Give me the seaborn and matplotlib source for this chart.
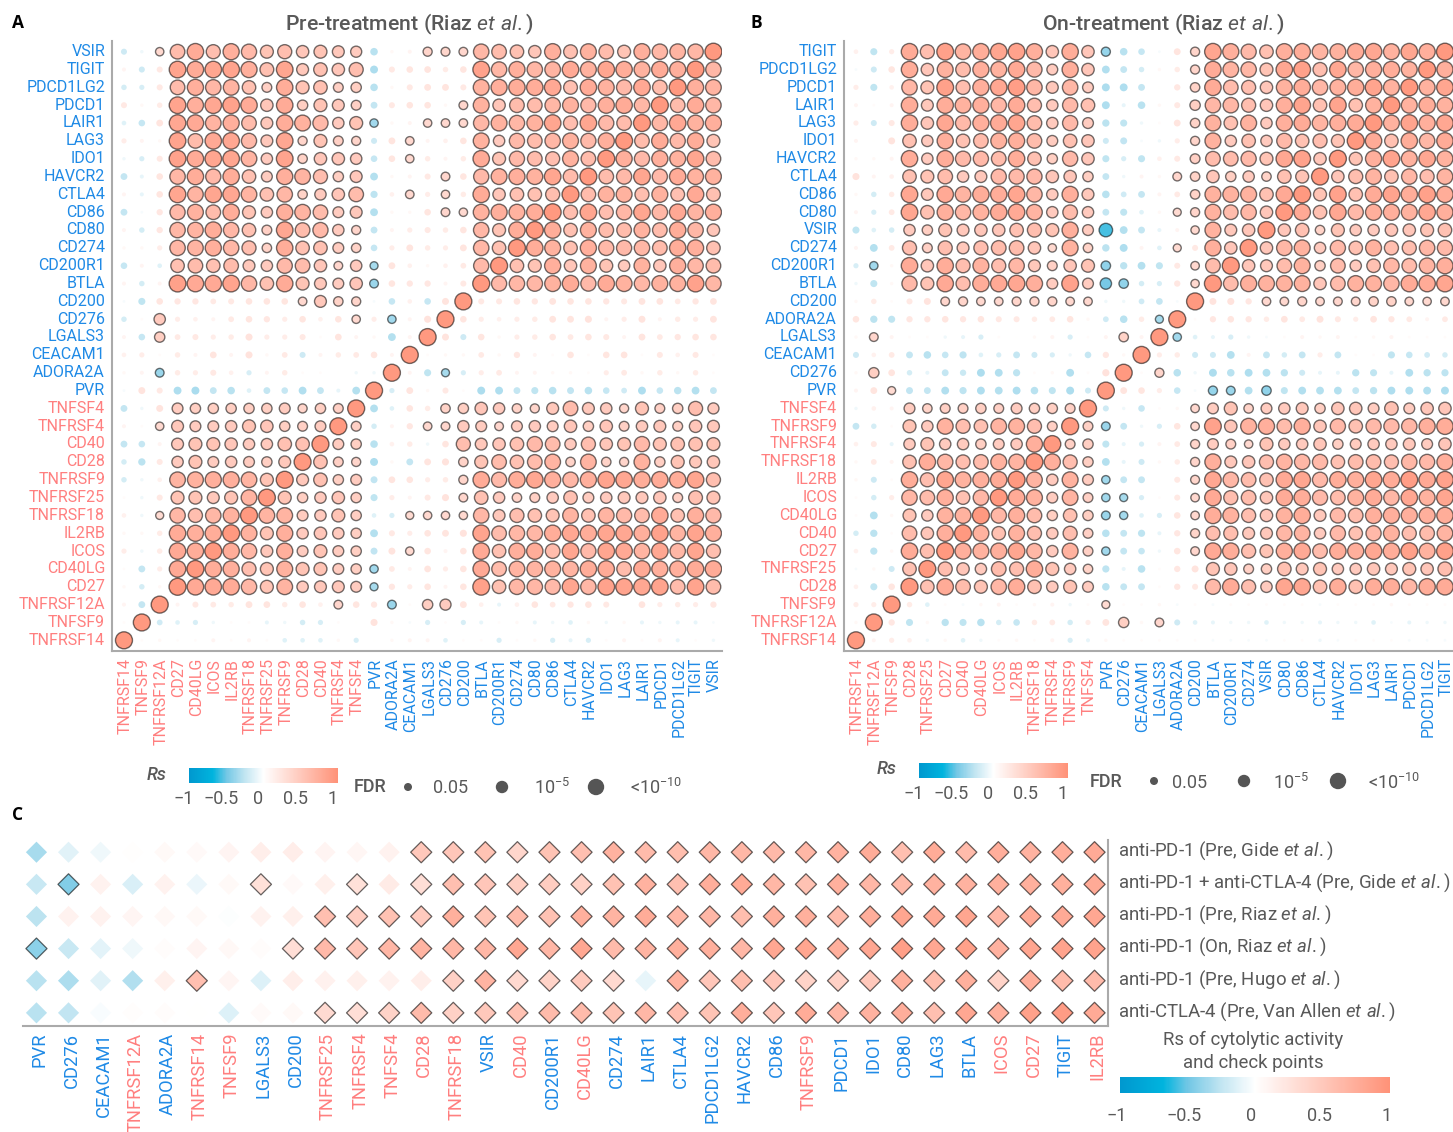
import numpy as np
import pandas as pd
import matplotlib
matplotlib.use('Agg')
import matplotlib.pyplot as plt
import seaborn as sns
from matplotlib.cm import ScalarMappable
from matplotlib.colors import LinearSegmentedColormap, Normalize
from matplotlib.transforms import ScaledTranslation

W, H = 1453, 1132
BLUE = '#1f8ae6'
RED = '#ff7f7f'
GREY = '#595959'

checkpoints = {'PVR', 'ADORA2A', 'CEACAM1', 'LGALS3', 'CD276', 'CD200', 'BTLA', 'CD200R1', 'CD274', 'CD80',
               'CD86', 'CTLA4', 'HAVCR2', 'IDO1', 'LAG3', 'LAIR1', 'PDCD1', 'PDCD1LG2', 'TIGIT', 'VSIR'}

pre_genes = ['TNFRSF14', 'TNFSF9', 'TNFRSF12A', 'CD27', 'CD40LG', 'ICOS', 'IL2RB', 'TNFRSF18', 'TNFRSF25',
             'TNFRSF9', 'CD28', 'CD40', 'TNFRSF4', 'TNFSF4', 'PVR', 'ADORA2A', 'CEACAM1', 'LGALS3', 'CD276',
             'CD200', 'BTLA', 'CD200R1', 'CD274', 'CD80', 'CD86', 'CTLA4', 'HAVCR2', 'IDO1', 'LAG3', 'LAIR1',
             'PDCD1', 'PDCD1LG2', 'TIGIT', 'VSIR']

on_genes = ['TNFRSF14', 'TNFRSF12A', 'TNFSF9', 'CD28', 'TNFRSF25', 'CD27', 'CD40', 'CD40LG', 'ICOS', 'IL2RB',
            'TNFRSF18', 'TNFRSF4', 'TNFRSF9', 'TNFSF4', 'PVR', 'CD276', 'CEACAM1', 'LGALS3', 'ADORA2A', 'CD200',
            'BTLA', 'CD200R1', 'CD274', 'VSIR', 'CD80', 'CD86', 'CTLA4', 'HAVCR2', 'IDO1', 'LAG3', 'LAIR1',
            'PDCD1', 'PDCD1LG2', 'TIGIT']

# Rs x 100, top row first, left of the diagonal only (the other side mirrors it)
pre_rs = [
    [-8, -2, 32, 58, 72, 56, 68, 60, 52, 56, 50, 52, 48, 45, -18, 2, 3, 36, 35, 34, 62, 58, 54, 50, 68, 55, 66, 58, 52, 68, 62, 64, 62],
    [3, -8, 8, 80, 72, 78, 80, 68, 55, 78, 48, 54, 50, 56, -26, 8, 10, 11, 6, 10, 82, 62, 68, 62, 64, 74, 66, 78, 70, 66, 72, 68],
    [-6, -5, 8, 58, 68, 62, 64, 54, 40, 70, 52, 54, 40, 42, -18, 2, 8, 12, 12, 8, 66, 68, 70, 70, 75, 55, 72, 66, 60, 75, 58],
    [8, 2, 6, 80, 68, 76, 82, 72, 50, 72, 42, 52, 48, 40, -12, 8, 10, 10, 2, 34, 66, 50, 58, 58, 62, 66, 60, 68, 72, 62],
    [-4, -10, 12, 76, 74, 64, 68, 58, 48, 70, 66, 60, 46, 52, -32, 2, 3, 32, 33, 33, 62, 66, 62, 66, 78, 56, 78, 60, 58],
    [5, 3, 2, 80, 58, 74, 76, 60, 48, 76, 36, 52, 40, 36, -8, 12, 33, 3, 4, 10, 66, 46, 60, 58, 62, 66, 60, 68],
    [-2, -5, 8, 82, 72, 78, 78, 64, 46, 80, 38, 50, 50, 46, -10, 10, 32, 6, 3, 6, 72, 52, 60, 58, 56, 66, 58],
    [-12, -3, 10, 62, 70, 60, 70, 54, 44, 68, 64, 56, 42, 48, -20, 2, 3, 8, 34, 10, 60, 66, 68, 66, 78, 58],
    [3, -3, 10, 78, 64, 78, 76, 64, 54, 62, 38, 46, 50, 58, -15, 4, 33, 5, 32, 6, 72, 50, 54, 54, 56],
    [-12, -1, 9, 60, 66, 58, 70, 52, 46, 68, 64, 58, 44, 48, -20, 2, 2, 10, 34, 32, 66, 68, 66, 70],
    [3, -6, 9, 62, 64, 70, 62, 54, 40, 76, 58, 60, 46, 36, -12, 3, 5, 8, 6, 10, 62, 52, 70],
    [2, 2, 5, 62, 64, 68, 62, 56, 38, 70, 54, 54, 44, 38, -10, 5, 12, 6, 5, 12, 62, 54],
    [-10, 3, -4, 54, 58, 54, 58, 48, 46, 60, 58, 50, 34, 46, -30, 12, 4, 2, 4, 7, 60],
    [3, -6, 3, 84, 74, 74, 80, 62, 54, 72, 52, 48, 44, 50, -34, 10, 9, 9, 3, 8],
    [-1, -14, 10, 9, 9, 7, 8, 10, 10, 10, 33, 48, 38, 36, -1, -10, 4, -10, 13],
    [-6, 1, 46, 5, 4, 3, 7, 10, 9, 5, 10, 4, 10, 32, 5, -32, 3, 14],
    [3, -10, 42, 7, 8, 5, 6, 14, 5, 5, 8, 1, 11, 3, 2, -20, 3],
    [4, 5, 1, 6, 3, 11, 3, 14, 2, 7, -8, 3, 6, 7, 10, 3],
    [2, 3, -34, 6, 5, 8, 4, -5, 3, 6, 1, 1, 0, -2, -2],
    [-1, 13, 8, -24, -28, -12, -18, -4, -12, -10, -22, -12, -3, -20],
    [-12, -2, 13, 44, 42, 42, 42, 42, 42, 44, 36, 42, 40],
    [3, 1, 32, 48, 44, 44, 46, 52, 50, 42, 40, 44],
    [-12, -10, 3, 48, 52, 52, 50, 46, 46, 54, 54],
    [-6, -16, 8, 46, 52, 44, 46, 44, 42, 48],
    [-6, -2, 4, 64, 66, 68, 68, 64, 52],
    [1, -2, 8, 52, 52, 48, 52, 64],
    [4, -2, 30, 62, 56, 62, 66],
    [2, 2, 6, 72, 68, 70],
    [5, -2, 6, 74, 70],
    [1, -12, 5, 74],
    [2, -6, 2],
    [3, -12],
    [1],
]

# rows of panel A whose right end is not a mirror of the left
pre_right = {
    14: [8, 8, 10, 9, 12, 10, 10, 9, 8, 12, 11, 7, 9, 11],
    15: [10, 5, 4, 5, 6, 12, 12, 14, 3, 5, 13, 3, 6, 5, 12],
    16: [13, -8, 10, 2, 5, 6, 10, 7, 10, 8, 3, 12, 7, 9, 10, 10],
    17: [1, 2, 2, 7, 2, 9, 3, 1, 10, 1, 10, 11, 1, 8, 4, 8, 1],
    18: [3, -14, -30, -5, 5, 7, 3, 3, 2, 2, 1, 5, 7, 2, 6, 2, 6, 1],
    19: [-5, 12, 2, 8, 1, -27, -24, -12, -14, -18, -13, -18, -10, -7, -24, -10, -17, -20, -12],
    31: [3, 8, 7, 6, 12, 11, 6, 10, 4, 34, 10, 9, -34, 1, 42, 45, 12, 4, -3, 4, 10, 7, 9, 10, 8, 0, 11, 5, 6, 5, 9],
    32: [-7, -4, -5, -2, 1, 1, -3, -2, -6, -5, 1, 0, 14, 2, -1, -5, 1, -5, -3, 1, 2, -3, -2, -4, 2, -2, 2, -3, -2, -3, -3, -1],
    33: [1, 2, 1, 1, 3, 1, 3, 1, -4, -4, -4, 2, -5, 0, 2, 3, 3, -4, 1, 1, -5, 1, 2, -5, -3, -5, 1, 3, 1, 3, -3, 1, -2],
}

# panel A, lower rows, columns PVR to CD200
pre_mid = {
    20: [-20, -4, 10, 6, 38, 42],
    21: [-6, 3, 9, 33, 34, 46],
    22: [-18, 4, 6, -2, 10, 56],
    23: [-26, 2, -12, 12, 14, 38],
    24: [-13, 11, 10, 5, 6, 36],
    25: [-14, 5, 3, 8, 14, 34],
    26: [-4, -5, 30, 32, 32, 32],
    27: [-20, 8, 5, 10, 12, 14],
    28: [-13, 13, 32, 10, 3, 10],
    29: [-32, 7, 3, 11, 5, 10],
    30: [-30, 9, 5, 10, 3, 10],
}

on_rs = [
    [4, -14, 5, 72, 56, 84, 64, 70, 78, 82, 68, 50, 70, 50, -36, -18, -10, -1, 12, 36, 78, 68, 60, 54, 68, 70, 64, 66, 72, 76, 66, 78, 68],
    [-1, -8, 10, 70, 50, 66, 58, 68, 66, 74, 60, 44, 68, 50, -22, -12, -6, 2, 6, 36, 72, 64, 62, 52, 76, 84, 56, 76, 62, 68, 70, 66],
    [5, -14, 4, 62, 52, 84, 56, 68, 76, 86, 62, 48, 62, 44, -26, -24, -12, 0, 9, 38, 72, 58, 56, 50, 66, 70, 62, 66, 70, 80, 66],
    [3, 1, 3, 70, 48, 70, 66, 68, 62, 72, 56, 46, 60, 54, -24, -3, -18, 2, 8, 42, 62, 62, 56, 50, 68, 80, 54, 80, 54, 66],
    [5, -8, 8, 70, 50, 76, 60, 68, 72, 78, 58, 46, 60, 44, -16, -14, -2, 1, 12, 38, 66, 54, 66, 46, 68, 72, 64, 68, 72],
    [3, 0, 13, 54, 46, 68, 54, 58, 66, 68, 58, 44, 54, 50, -8, -13, -1, -2, 5, 36, 66, 46, 54, 46, 60, 54, 56, 52],
    [2, 2, 3, 70, 46, 70, 60, 60, 58, 70, 54, 42, 60, 50, -14, -5, -14, 4, 8, 40, 58, 58, 60, 52, 76, 82, 50],
    [14, 3, 4, 54, 52, 58, 46, 48, 60, 60, 60, 50, 50, 42, -12, -2, 3, 2, 34, 38, 50, 42, 46, 38, 54, 52],
    [2, -6, 6, 76, 48, 74, 64, 70, 70, 78, 62, 46, 68, 48, -18, -7, -12, 3, 7, 38, 66, 66, 66, 54, 74],
    [3, -5, 7, 78, 54, 68, 62, 66, 72, 74, 64, 46, 58, 46, -12, -14, -4, 2, 30, 36, 66, 58, 62, 50],
    [-14, -4, -6, 46, 42, 52, 48, 50, 50, 54, 56, 52, 68, 44, -54, -20, -12, -3, 3, 32, 66, 48, 50],
    [3, -20, 7, 56, 40, 56, 48, 56, 58, 58, 50, 32, 66, 38, -17, -24, 3, -4, 30, 8, 68, 50],
    [-5, -32, 2, 72, 50, 70, 56, 66, 56, 62, 48, 40, 50, 52, -38, -16, -20, -14, 8, 33, 58],
    [-2, -14, 2, 60, 52, 74, 56, 70, 74, 76, 68, 44, 82, 44, -46, -38, -6, -5, 9, 32],
    [2, 6, 1, 8, 13, 34, 36, 33, 33, 35, 36, 36, 33, 33, -2, -2, -7, -11, -1],
    [10, -16, -14, 9, 9, 10, 9, 10, 8, 8, 6, 7, 10, 2, -7, -18, 6, -30],
    [2, 34, 3, 1, 1, -2, -3, -5, 1, 0, 2, 3, -5, 1, 3, 38, 3],
    [-8, 4, 7, -12, -18, -10, -15, -4, -5, -12, -8, -5, -2, -10, 9, 2],
    [2, 42, 11, -6, -3, -12, -9, -26, -22, -15, 1, 2, -22, 1, 15],
    [3, 12, 30, -13, -12, -22, -15, -24, -20, -24, -18, -14, -26, -8],
    [-2, 4, 3, 44, 38, 40, 40, 42, 40, 44, 42, 42, 40],
    [-12, -6, 1, 52, 46, 66, 56, 54, 64, 66, 56, 40],
    [4, 8, -3, 46, 52, 46, 46, 42, 44, 46, 68],
    [2, 7, 3, 54, 70, 62, 56, 58, 66, 64],
    [2, -8, 1, 70, 56, 78, 66, 68, 72],
    [1, -6, 5, 62, 58, 68, 54, 62],
    [1, -20, 2, 52, 46, 66, 66],
    [-6, -16, 1, 58, 50, 68],
    [4, -15, 2, 72, 56],
    [-1, 2, -8, 54],
    [4, -14, 10],
    [5, 5],
    [2],
]

on_right = {
    14: [13, 14, 9, 33, 33, 36, 33, 34, 34, 38, 38, 33, 32, 33],
    15: [1, 9, 10, 9, 6, 11, 7, 13, 8, 5, 11, 9, 7, 3, 7],
    16: [-32, -4, -3, -5, -2, -1, 1, 3, 2, 3, 1, 2, 3, 1, 1, 1],
    17: [5, 6, -8, -8, -20, 3, -12, -6, -12, 5, -12, 1, 1, -14, -10, -7, -6],
    18: [1, 36, -18, -2, -26, -18, -24, -20, -16, -8, -3, -3, -16, -14, -3, -22, -16, -15],
    19: [12, 10, 5, -10, -1, -36, -34, -20, -38, -14, -22, -20, -20, -12, -16, -24, -24, -22, -26],
    31: [6, -4, 1, -1, 2, 3, 1, 2, 3, -2, 1, 30, 1, 1, 2, -1, 1, -1, 1, 1, 1, 1, 1, -1, 1, 1, 1, 2, 1, 1, 1],
    32: [9, -14, 2, -16, -14, -18, -6, -10, 6, 7, -6, 5, 12, 42, 2, 34, -8, -4, -3, -2, -2, -4, -2, -2, -3, -2, -2, -4, -1, -3, -2, -2],
    33: [3, 5, 4, -2, 2, -4, -2, 1, 2, 1, 3, -5, -3, 2, 1, 1, 1, 1, 1, -1, -1, -1, -1, 1, 1, -2, -1, 1, 1, 1, -1, -1, -1],
}

# panel B, lower rows, columns PVR and CD276
on_mid = {
    20: [-8, -2],
    21: [-34, -12],
    22: [-14, -3],
    23: [-20, -3],
    24: [-32, -12],
    25: [-32, -30],
    26: [-34, -31],
    27: [-18, -12],
    28: [-32, -12],
    29: [-15, -3],
    30: [-18, -12],
}

cohort_genes = ['PVR', 'CD276', 'CEACAM1', 'TNFRSF12A', 'ADORA2A', 'TNFRSF14', 'TNFSF9', 'LGALS3', 'CD200',
                'TNFRSF25', 'TNFRSF4', 'TNFSF4', 'CD28', 'TNFRSF18', 'VSIR', 'CD40', 'CD200R1', 'CD40LG', 'CD274',
                'LAIR1', 'CTLA4', 'PDCD1LG2', 'HAVCR2', 'CD86', 'TNFRSF9', 'PDCD1', 'IDO1', 'CD80', 'LAG3', 'BTLA',
                'ICOS', 'CD27', 'TIGIT', 'IL2RB']

cohort_labels = [r'anti-PD-1 (Pre, Gide $\mathit{et\ al.}$)',
                 r'anti-PD-1 + anti-CTLA-4 (Pre, Gide $\mathit{et\ al.}$)',
                 r'anti-PD-1 (Pre, Riaz $\mathit{et\ al.}$)',
                 r'anti-PD-1 (On, Riaz $\mathit{et\ al.}$)',
                 r'anti-PD-1 (Pre, Hugo $\mathit{et\ al.}$)',
                 r'anti-CTLA-4 (Pre, Van Allen $\mathit{et\ al.}$)']

gide_pd1 = [-33, -12, -7, 1, 6, 5, 10, 15, 16, 10, 8, 12, 50, 52, 55, 38, 55, 58, 70, 62, 60, 66, 66, 64, 66, 70, 76, 58, 76, 62, 74, 70, 74, 78]
gide_combo = [-22, -45, 12, -15, 12, -8, 6, 28, 5, 14, 28, 18, 30, 58, 52, 44, 46, 42, 56, 70, 58, 74, 78, 66, 56, 72, 66, 64, 70, 70, 72, 72, 72, 78]
riaz_pre = [-27, 12, 12, 9, 7, 6, -1, 12, 14, 58, 46, 56, 48, 72, 54, 62, 56, 72, 68, 76, 66, 66, 60, 72, 72, 62, 74, 82, 78, 82, 66, 78, 78, 80]
riaz_on = [-42, -22, -11, -7, 3, 10, 7, 3, 30, 64, 52, 66, 68, 66, 66, 80, 66, 80, 62, 68, 72, 72, 66, 80, 82, 72, 80, 88, 80, 86, 70, 82, 84, 84]
hugo_pre = [-28, -32, -12, -30, 14, 58, 9, -14, 15, 13, 14, 12, 15, 42, 68, 35, 40, 48, 35, -10, 70, 52, 60, 52, 40, 42, 50, 72, 60, 72, 40, 74, 62, 62]
vanallen_pre = [-28, -25, -3, 2, 3, 0, -14, 4, 6, 34, 30, 40, 62, 42, 50, 56, 62, 62, 54, 66, 58, 54, 74, 52, 76, 66, 70, 74, 58, 80, 72, 86, 90, 78]
# smallest |Rs| that reaches significance in each cohort
cohort_cutoffs = [0.36, 0.27, 0.30, 0.28, 0.33, 0.30]

fdr_labels = ['0.05', r'$\mathregular{10^{-5}}$', r'<$\mathregular{10^{-10}}$']
rs_ticks = [-1, -0.5, 0, 0.5, 1]
rs_ticklabels = ['\u22121', '\u22120.5', '0', '0.5', '1']

rs_cmap = LinearSegmentedColormap.from_list(
    'rs', [(0, '#0098cf'), (0.16, '#00b4de'), (0.25, '#72c7e5'), (0.37, '#bfe4f1'),
           (0.5, '#ffffff'), (1, '#ff9278')])


def px_axes(fig, left, top, right, bottom, **kwargs):
    return fig.add_axes([left / W, 1 - bottom / H, (right - left) / W, (bottom - top) / H], **kwargs)


def shift_labels(fig, labels, dx, dy):
    """Nudge tick labels by a number of pixels."""
    offset = ScaledTranslation(dx / 100, dy / 100, fig.dpi_scale_trans)
    for lab in labels:
        lab.set_transform(lab.get_transform() + offset)


def build_matrix(rows, right, mid, mid_start):
    n = len(rows) + 1
    mat = np.zeros((n, n))
    for r in range(n):
        mat[r, n - 1 - r] = 92
    for r, row in enumerate(rows):
        if len(row) != n - 1 - r:
            raise ValueError(f'row {r} has {len(row)} values')
        for c, val in enumerate(row):
            mat[r, c] = val
            mat[n - 1 - c, n - 1 - r] = val
    for r, vals in right.items():
        mat[r, n - len(vals):] = vals
    for r, vals in mid.items():
        mat[r, mid_start:mid_start + len(vals)] = vals
    return mat / 100


def dot_area(rs):
    radius = np.interp(np.abs(rs), [0, 0.02, 0.05, 0.1, 0.2, 0.3, 0.4, 0.5, 0.6, 0.7, 1],
                       [1.0, 1.7, 2.6, 3.3, 3.9, 4.0, 4.9, 6.2, 7.6, 8.2, 8.6])
    return (2 * radius * 0.72) ** 2


def dot_shade(rs):
    # pale dots read a little stronger than their size suggests
    shade = np.interp(np.abs(rs), [0, 0.05, 0.1, 0.2, 0.3, 0.5, 0.7, 1],
                      [0, 0.16, 0.23, 0.29, 0.33, 0.52, 0.75, 1])
    return np.sign(rs) * shade


def gene_colour(gene):
    return BLUE if gene in checkpoints else RED


def plot_dots(fig, ax, mat, genes):
    rows, cols = np.indices(mat.shape)
    df = pd.DataFrame({'row': rows.ravel(), 'col': cols.ravel(), 'rs': mat.ravel()})
    df['area'] = dot_area(df['rs'])
    df['shade'] = dot_shade(df['rs'])
    size_range = (df['area'].min(), df['area'].max())
    common = dict(x='col', y='row', hue='shade', size='area', palette=rs_cmap, hue_norm=(-1, 1),
                  sizes=size_range, size_norm=size_range, legend=False, ax=ax)
    sns.scatterplot(data=df[df['rs'].abs() < 0.3], linewidth=0, **common)
    sns.scatterplot(data=df[df['rs'].abs() >= 0.3], linewidth=1.0, edgecolor='#0000008c', **common)

    n = len(genes)
    ax.set_xticks(range(n))
    ax.set_xticklabels(genes, rotation=90, fontsize=11.5)
    ax.set_yticks(range(n))
    ax.set_yticklabels(genes[::-1], fontsize=11.5)
    for lab, gene in zip(ax.get_xticklabels(), genes):
        lab.set_color(gene_colour(gene))
    for lab, gene in zip(ax.get_yticklabels(), genes[::-1]):
        lab.set_color(gene_colour(gene))
    style_axis(ax)
    shift_labels(fig, ax.get_xticklabels(), 1, 0)
    shift_labels(fig, ax.get_yticklabels(), 0, 1.6)
    ax.set_xlabel('')
    ax.set_ylabel('')


def style_axis(ax):
    sns.despine(ax=ax)
    for side in ['left', 'bottom', 'right']:
        ax.spines[side].set_color('#aaaaaa')
        ax.spines[side].set_linewidth(1.5)
    ax.tick_params(length=0, pad=5)


def add_colorbar(fig, left, top, right, bottom, pad, shift):
    cax = px_axes(fig, left, top, right, bottom)
    cb = fig.colorbar(ScalarMappable(norm=Normalize(-1, 1), cmap=rs_cmap), cax=cax, orientation='horizontal')
    cb.outline.set_visible(False)
    cb.set_ticks(rs_ticks)
    cb.set_ticklabels(rs_ticklabels)
    cax.tick_params(axis='x', direction='in', top=True, bottom=True, color='white', length=2.5, width=1,
                    labelsize=13, labelcolor=GREY, pad=pad)
    shift_labels(fig, cax.get_xticklabels(), shift, 0)


def add_fdr_legend(ov, text_x, text_y, dot_x, dot_y, label_x):
    ov.text(text_x, text_y, 'FDR', fontsize=13, fontweight='medium', color=GREY, va='center')
    ov.scatter(dot_x, [dot_y] * 3, s=dot_area(np.array([0.3, 0.5, 0.7])), color='#555555', linewidth=0)
    for x, lab in zip(label_x, fdr_labels):
        ov.text(x, text_y + 1, lab, fontsize=13, color=GREY, va='center')


def plot_cohorts(fig, ax):
    values = [gide_pd1, gide_combo, riaz_pre, riaz_on, hugo_pre, vanallen_pre]
    frames = []
    for r, vals in enumerate(values):
        rs = np.array(vals) / 100
        frames.append(pd.DataFrame({'row': r, 'col': range(len(vals)), 'rs': rs,
                                    'sig': np.abs(rs) >= cohort_cutoffs[r]}))
    df = pd.concat(frames)
    common = dict(x='col', y='row', hue='rs', palette=rs_cmap, hue_norm=(-1, 1), marker='D', s=116,
                  legend=False, ax=ax)
    sns.scatterplot(data=df[~df['sig']], linewidth=0, **common)
    sns.scatterplot(data=df[df['sig']], linewidth=0.9, edgecolor='#00000099', **common)

    ax.set_xticks(range(len(cohort_genes)))
    ax.set_xticklabels(cohort_genes, rotation=90, fontsize=13.2)
    for lab, gene in zip(ax.get_xticklabels(), cohort_genes):
        lab.set_color(gene_colour(gene))
    ax.yaxis.tick_right()
    ax.set_yticks(range(len(cohort_labels)))
    ax.set_yticklabels(cohort_labels, fontsize=13.4, color=GREY)
    style_axis(ax)
    ax.spines['left'].set_visible(False)
    ax.spines['right'].set_visible(True)
    ax.tick_params(axis='y', pad=7.5)
    shift_labels(fig, ax.get_xticklabels(), 3, 0)
    shift_labels(fig, ax.get_yticklabels(), 0, 4.5)
    ax.set_xlabel('')
    ax.set_ylabel('')


def main():
    sns.set_theme(style='white')
    plt.rcParams['font.family'] = ['Roboto', 'DejaVu Sans']
    plt.rcParams['mathtext.fontset'] = 'custom'
    plt.rcParams['mathtext.rm'] = 'Roboto'
    plt.rcParams['mathtext.it'] = 'Roboto:italic'
    plt.rcParams['mathtext.bf'] = 'Roboto:bold'

    fig = plt.figure(figsize=(W / 100, H / 100), dpi=100)

    ov = px_axes(fig, 0, 0, W, H)
    ov.set_xlim(0, W)
    ov.set_ylim(H, 0)
    ov.axis('off')

    ax_a = px_axes(fig, 112, 41, 722, 651)
    plot_dots(fig, ax_a, build_matrix(pre_rs, pre_right, pre_mid, 14), pre_genes)
    ax_a.set_xlim(-0.67, 33.48)
    ax_a.set_ylim(33.6, -0.6)

    ax_b = px_axes(fig, 844, 41, 1453, 651)
    plot_dots(fig, ax_b, build_matrix(on_rs, on_right, on_mid, 14), on_genes)
    ax_b.set_xlim(-0.67, 33.45)
    ax_b.set_ylim(33.6, -0.6)

    ax_c = px_axes(fig, 23, 840, 1108, 1025.7)
    plot_cohorts(fig, ax_c)
    ax_c.set_xlim(-0.42, 33.42)
    ax_c.set_ylim(5.4, -0.38)

    title_kw = dict(fontsize=15.3, fontweight='medium', color=GREY, ha='center', va='center')
    ov.text(409, 24, r'Pre-treatment (Riaz $\mathit{et\ al.}$)', **title_kw)
    ov.text(1163, 24, r'On-treatment (Riaz $\mathit{et\ al.}$)', **title_kw)
    letter_kw = dict(fontsize=12.5, fontweight='bold', color='black', family='Open Sans', ha='left', va='center')
    ov.text(12, 23, 'A', **letter_kw)
    ov.text(750, 23, 'B', **letter_kw)
    ov.text(12, 815, 'C', **letter_kw)

    rs_kw = dict(fontsize=13, style='italic', fontweight='medium', color=GREY, ha='center', va='center')
    ov.text(157, 775, 'Rs', **rs_kw)
    ov.text(887, 769, 'Rs', **rs_kw)
    add_colorbar(fig, 189, 768, 338, 783, 5, -5)
    add_colorbar(fig, 919, 763, 1068, 778, 5, -5)
    add_fdr_legend(ov, 354, 787, [408, 502, 596], 787, [433, 534, 630])
    add_fdr_legend(ov, 1090, 782, [1154, 1244, 1338], 781, [1172, 1273, 1368])

    ov.text(1253, 1051.5, 'Rs of cytolytic activity\nand check points', fontsize=13.4, color=GREY,
            ha='center', va='center', linespacing=1.35)
    add_colorbar(fig, 1120, 1077, 1390, 1093, 10, -3.5)

    fig.savefig('out.png', dpi=100)


if __name__ == '__main__':
    main()
